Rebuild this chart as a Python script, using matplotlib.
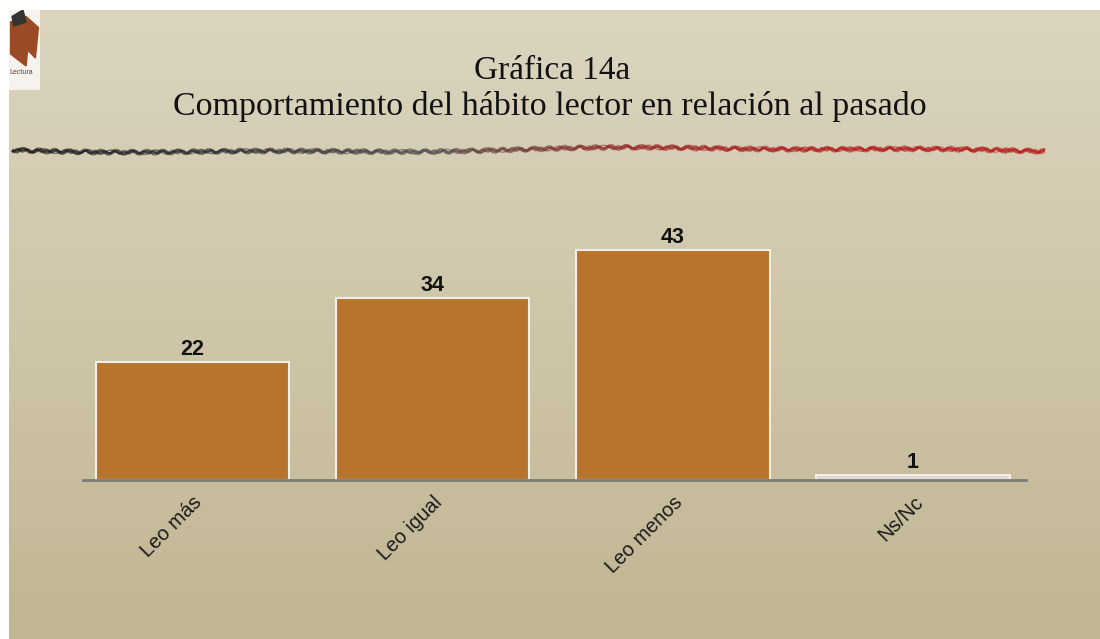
#!/usr/bin/env python3
"""Gráfica 14a: comportamiento del hábito lector en relación al pasado."""

import matplotlib
matplotlib.use("Agg")
import matplotlib.pyplot as plt
import numpy as np
from matplotlib.collections import LineCollection
from matplotlib.colors import LinearSegmentedColormap
from matplotlib.patches import Polygon, Rectangle

categories = ["Leo más", "Leo igual", "Leo menos", "Ns/Nc"]
values = [22, 34, 43, 1]
bar_colors = ["#b8732f", "#b8732f", "#b8732f", "#dcdad6"]

title_lines = ["Gráfica 14a", "Comportamiento del hábito lector en relación al pasado"]

W, H = 1100, 639
fig = plt.figure(figsize=(W / 100, H / 100), dpi=100)
fig.patch.set_facecolor("white")

# --- paper-like background (white strip left and top) ---
bg = fig.add_axes([9 / W, 0, 1 - 9 / W, 1 - 10 / H], zorder=-10)
grad = np.linspace(0, 1, 256).reshape(-1, 1)
paper = LinearSegmentedColormap.from_list("paper", ["#dbd5c0", "#cfc6a9", "#c1b592"])
bg.imshow(grad, aspect="auto", cmap=paper, extent=[0, 1, 0, 1], origin="upper")
bg.set_xlim(0, 1)
bg.set_ylim(0, 1)
bg.axis("off")

# --- logo in top-left corner ---
logo = fig.add_axes([9 / W, 1 - 90 / H, 31 / W, 80 / H], zorder=-5)
logo.set_xlim(0, 1)
logo.set_ylim(0, 1)
logo.axis("off")
logo.add_patch(Rectangle((0, 0), 1, 1, color="#f6f3ee"))
logo.add_patch(Polygon([[0.05, 0.85], [0.55, 0.92], [0.95, 0.78], [0.85, 0.4],
                        [0.6, 0.5], [0.55, 0.3], [0.05, 0.45]], color="#9a4a25"))
logo.add_patch(Polygon([[0.1, 0.92], [0.45, 1.0], [0.55, 0.85], [0.15, 0.8]], color="#333333"))
logo.text(0.02, 0.2, "Lectura", fontsize=5, color="#6b3a22", family="Liberation Sans")

# --- titles ---
fig.text(0.502, 1 - 79 / H, title_lines[0], ha="center", va="baseline",
         fontsize=24, family="Liberation Serif", color="#111111")
fig.text(0.5, 1 - 115 / H, title_lines[1], ha="center", va="baseline",
         fontsize=24.5, family="Liberation Serif", color="#111111")

# --- scribbled divider: black fading into red ---
t = np.linspace(0, 1, 900)
xs = 12 / W + t * (1045 - 12) / W
base = 150 + 2.0 * np.sin(t * 7) + 1.0 * np.sin(t * 19)
stroke = LinearSegmentedColormap.from_list(
    "stroke", ["#1a1a1a", "#2e2e2e", "#555050", "#9a2a2a", "#b51c1c", "#b81d1d"])
for k, (amp, freq, lw, a) in enumerate([(1.8, 420, 2.4, 0.8),
                                        (1.4, 670, 1.6, 0.7),
                                        (2.2, 290, 1.0, 0.6)]):
    ys = 1 - (base + amp * np.sin(t * freq + k)) / H
    pts = np.column_stack([xs, ys]).reshape(-1, 1, 2)
    segs = np.concatenate([pts[:-1], pts[1:]], axis=1)
    lc = LineCollection(segs, cmap=stroke, linewidths=lw, alpha=a,
                        transform=fig.transFigure)
    lc.set_array(t[:-1])
    fig.add_artist(lc)

# --- bar chart ---
ax = fig.add_axes([83 / W, 1 - 480 / H, 943 / W, 267.5 / H])
ax.patch.set_alpha(0)
x = np.arange(len(categories))
bars = ax.bar(x, values, width=0.805, color=bar_colors,
              edgecolor="#f4efe2", linewidth=1.5, zorder=2)
for b, v in zip(bars, values):
    ax.text(b.get_x() + b.get_width() / 2, v + 0.4, str(v),
            ha="center", va="bottom", fontsize=15.5, fontweight="bold",
            family="Liberation Sans", color="#111111")

ax.set_xlim(-0.456, 3.47)
ax.set_ylim(0, 50)
for s in ["top", "right", "left"]:
    ax.spines[s].set_visible(False)
ax.spines["bottom"].set_color("#7b7b78")
ax.spines["bottom"].set_linewidth(2)
ax.spines["bottom"].set_zorder(3)
ax.set_yticks([])
ax.set_xticks(x)
ax.set_xticklabels(categories, rotation=45, ha="right", va="top",
                   rotation_mode="anchor", fontsize=14.5,
                   family="Liberation Sans", color="#1a1a1a")
ax.tick_params(axis="x", length=0, pad=9)
for lbl in ax.get_xticklabels():
    lbl.set_x(lbl.get_position()[0] + 0.012)

fig.savefig("out.png", dpi=100)
